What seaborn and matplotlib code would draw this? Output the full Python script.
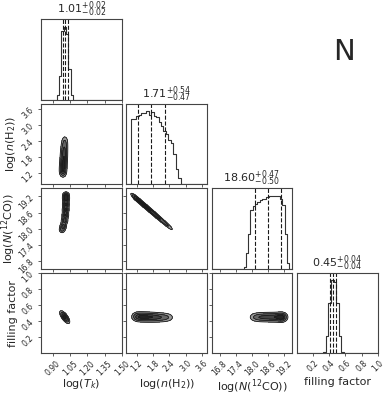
import numpy as np
import pandas as pd
import matplotlib
matplotlib.use("Agg")
import matplotlib.pyplot as plt
import seaborn as sns

sns.set_theme(style="ticks")
plt.rcParams['font.family'] = ['DejaVu Sans']
plt.rcParams['mathtext.fontset'] = 'dejavusans'

# ---------------- data ----------------
labels = [r"log($T_k$)", r"log($n$(H$_2$))", r"log($N$($^{12}$CO))", "filling factor"]
ranges = [(0.8, 1.5), (0.8, 3.8), (16.5, 19.5), (0.0, 1.0)]
tick_values = [[0.90, 1.05, 1.20, 1.35, 1.50],
               [1.2, 1.8, 2.4, 3.0, 3.6],
               [16.8, 17.4, 18.0, 18.6, 19.2],
               [0.2, 0.4, 0.6, 0.8, 1.0]]
tick_labels = [["0.90", "1.05", "1.20", "1.35", "1.50"],
               ["1.2", "1.8", "2.4", "3.0", "3.6"],
               ["16.8", "17.4", "18.0", "18.6", "19.2"],
               ["0.2", "0.4", "0.6", "0.8", "1.0"]]
medians = ["1.01", "1.71", "18.60", "0.45"]
err_plus = ["0.02", "0.54", "0.47", "0.04"]
err_minus = ["0.02", "0.47", "0.50", "0.04"]
quantiles = [[0.99, 1.01, 1.03],
             [1.24, 1.71, 2.25],
             [18.10, 18.60, 19.07],
             [0.41, 0.45, 0.49]]

# 1-D histograms (first bin edge, bin width, normalised heights)
hist_start = [0.935, 0.99, 17.69, 0.33]
hist_width = [0.0205, 0.0915, 0.0845, 0.031]
tk_hist = [0.06, 0.33, 0.94, 1.0, 0.90, 0.42, 0.06]
nh2_hist = [0.89, 0.89, 0.93, 0.95, 0.97, 0.98, 1.0, 0.95, 0.99, 0.93,
            0.92, 0.85, 0.80, 0.73, 0.69, 0.60, 0.57, 0.41, 0.21, 0.08]
nco_hist = [0.03, 0.22, 0.47, 0.81, 0.86, 0.89, 0.92, 0.94, 0.95, 0.96,
            0.98, 0.99, 1.0, 1.0, 1.0, 0.99, 0.95, 0.88, 0.47, 0.08]
ff_hist = [0.02, 0.24, 0.69, 1.0, 0.98, 0.69, 0.24, 0.02]
hists = [tk_hist, nh2_hist, nco_hist, ff_hist]

# 2-D posteriors: ridge points (x, y), weights, widths and correlation
tk_nh2_x = [0.990, 0.992, 0.995, 0.998, 1.000, 1.003, 1.006]
tk_nh2_y = [1.25, 1.45, 1.65, 1.85, 2.05, 2.25, 2.45]
tk_nh2_w = [1.0, 1.0, 0.95, 0.9, 0.8, 0.65, 0.45]
tk_nco_x = [0.982, 0.993, 1.004, 1.010, 1.013, 1.015, 1.016, 1.016]
tk_nco_y = [17.95, 18.10, 18.30, 18.50, 18.70, 18.90, 19.10, 19.25]
tk_nco_w = [0.6, 0.8, 0.9, 0.95, 1.0, 1.0, 1.0, 0.9]
nh2_nco_x = [1.12, 1.27, 1.42, 1.57, 1.72, 1.87, 2.02, 2.17, 2.32, 2.45]
nh2_nco_y = [19.17, 19.04, 18.91, 18.78, 18.65, 18.52, 18.39, 18.26, 18.13, 18.02]
nh2_nco_w = [1.0, 1.0, 1.0, 0.97, 0.93, 0.85, 0.75, 0.6, 0.45, 0.3]
tk_ff_x = [1.005]
tk_ff_y = [0.45]
tk_ff_w = [1.0]
nh2_ff_x = [1.20, 1.40, 1.60, 1.80, 2.00, 2.20, 2.40]
nh2_ff_y = [0.455, 0.453, 0.451, 0.449, 0.448, 0.447, 0.447]
nh2_ff_w = [1.0, 1.0, 0.97, 0.9, 0.75, 0.6, 0.4]
nco_ff_x = [18.05, 18.25, 18.45, 18.65, 18.85, 19.05, 19.15]
nco_ff_y = [0.45, 0.45, 0.45, 0.45, 0.45, 0.45, 0.45]
nco_ff_w = [0.5, 0.8, 0.9, 0.95, 1.0, 1.0, 0.9]

pairs = {
    (1, 0): (tk_nh2_x, tk_nh2_y, tk_nh2_w, 0.019, 0.12, 0.0),
    (2, 0): (tk_nco_x, tk_nco_y, tk_nco_w, 0.018, 0.08, 0.0),
    (2, 1): (nh2_nco_x, nh2_nco_y, nh2_nco_w, 0.10, 0.10, -0.80),
    (3, 0): (tk_ff_x, tk_ff_y, tk_ff_w, 0.022, 0.04, -0.7),
    (3, 1): (nh2_ff_x, nh2_ff_y, nh2_ff_w, 0.13, 0.036, 0.0),
    (3, 2): (nco_ff_x, nco_ff_y, nco_ff_w, 0.12, 0.036, 0.0),
}

# ---------------- figure ----------------
K = 4
fig, axes = plt.subplots(K, K, figsize=(3.89, 3.95), dpi=100)
fig.subplots_adjust(left=0.1054, right=0.971, bottom=0.1056, top=0.951,
                    wspace=0.053, hspace=0.053)

line_c = "#333333"
tick_fs = 5.5
label_fs = 8


def style_axis(ax):
    for s in ax.spines.values():
        s.set_color("#444444")
        s.set_linewidth(0.8)
    ax.tick_params(direction="out", length=2.5, width=0.6, color="#444444",
                   labelsize=tick_fs, pad=1.5)


mass_fracs = 1.0 - np.exp(-0.5 * np.arange(0.5, 2.1, 0.5) ** 2)

for i in range(K):
    for j in range(K):
        ax = axes[i, j]
        if j > i:
            ax.set_axis_off()
            continue
        style_axis(ax)
        if i == j:
            h = np.asarray(hists[i], dtype=float)
            lo, hi = ranges[i]
            w = hist_width[i]
            n_before = int(np.ceil((hist_start[i] - lo) / w))
            n_after = int(np.ceil((hi - (hist_start[i] + w * len(h))) / w))
            first = hist_start[i] - n_before * w
            heights = np.concatenate([np.zeros(n_before), h, np.zeros(max(n_after, 0))])
            edges = first + w * np.arange(len(heights) + 1)
            centers = 0.5 * (edges[:-1] + edges[1:])
            df = pd.DataFrame({"value": centers, "height": heights})
            sns.histplot(data=df, x="value", weights="height", bins=list(edges),
                         element="step", fill=False, color=line_c, linewidth=0.8, ax=ax)
            for q in quantiles[i]:
                ax.axvline(q, ls="--", color="k", lw=0.8)
            ax.set_ylim(0, 1.1 * h.max())
            ax.set_yticks([])
            ax.set_ylabel("")
            ax.set_xlim(*ranges[i])
            ax.set_title(r"$%s_{-%s}^{+%s}$" % (medians[i], err_minus[i], err_plus[i]),
                         fontsize=8, pad=1.0)
        else:
            xs, ys, ws, sx, sy, rho = pairs[(i, j)]
            gx = np.linspace(*ranges[j], 300)
            gy = np.linspace(*ranges[i], 300)
            X, Y = np.meshgrid(gx, gy)
            Z = np.zeros_like(X)
            for x0, y0, wt in zip(xs, ys, ws):
                dx = (X - x0) / sx
                dy = (Y - y0) / sy
                Z += wt * np.exp(-(dx * dx - 2 * rho * dx * dy + dy * dy) / (2 * (1 - rho ** 2)))
            zf = np.sort(Z.ravel())[::-1]
            cs = np.cumsum(zf)
            cs /= cs[-1]
            lv = sorted(zf[np.searchsorted(cs, f)] for f in mass_fracs)
            ax.contourf(X, Y, Z, levels=list(lv) + [Z.max() * 1.0001],
                        colors=["0.6", "0.4", "0.27", "0.15"])
            ax.contour(X, Y, Z, levels=lv, colors="k", linewidths=0.6)
            ax.set_xlim(*ranges[j])
            ax.set_ylim(*ranges[i])
            ax.set_yticks(tick_values[i])
            if j == 0:
                ax.set_yticklabels(tick_labels[i], rotation=45, fontsize=tick_fs)
                ax.set_ylabel(labels[i], fontsize=label_fs)
                ax.yaxis.set_label_coords(-0.285, 0.5)
            else:
                ax.set_yticklabels([])
                ax.set_ylabel("")
        ax.set_xticks(tick_values[j])
        if i == K - 1:
            ax.set_xticklabels(tick_labels[j], rotation=45, fontsize=tick_fs)
            ax.set_xlabel(labels[j], fontsize=label_fs)
            ax.xaxis.set_label_coords(0.5, -0.3)
        else:
            ax.set_xticklabels([])
            ax.set_xlabel("")

fig.text(0.884, 0.868, "N", fontsize=21, ha="center", va="center")

fig.savefig("out.png", dpi=100)
